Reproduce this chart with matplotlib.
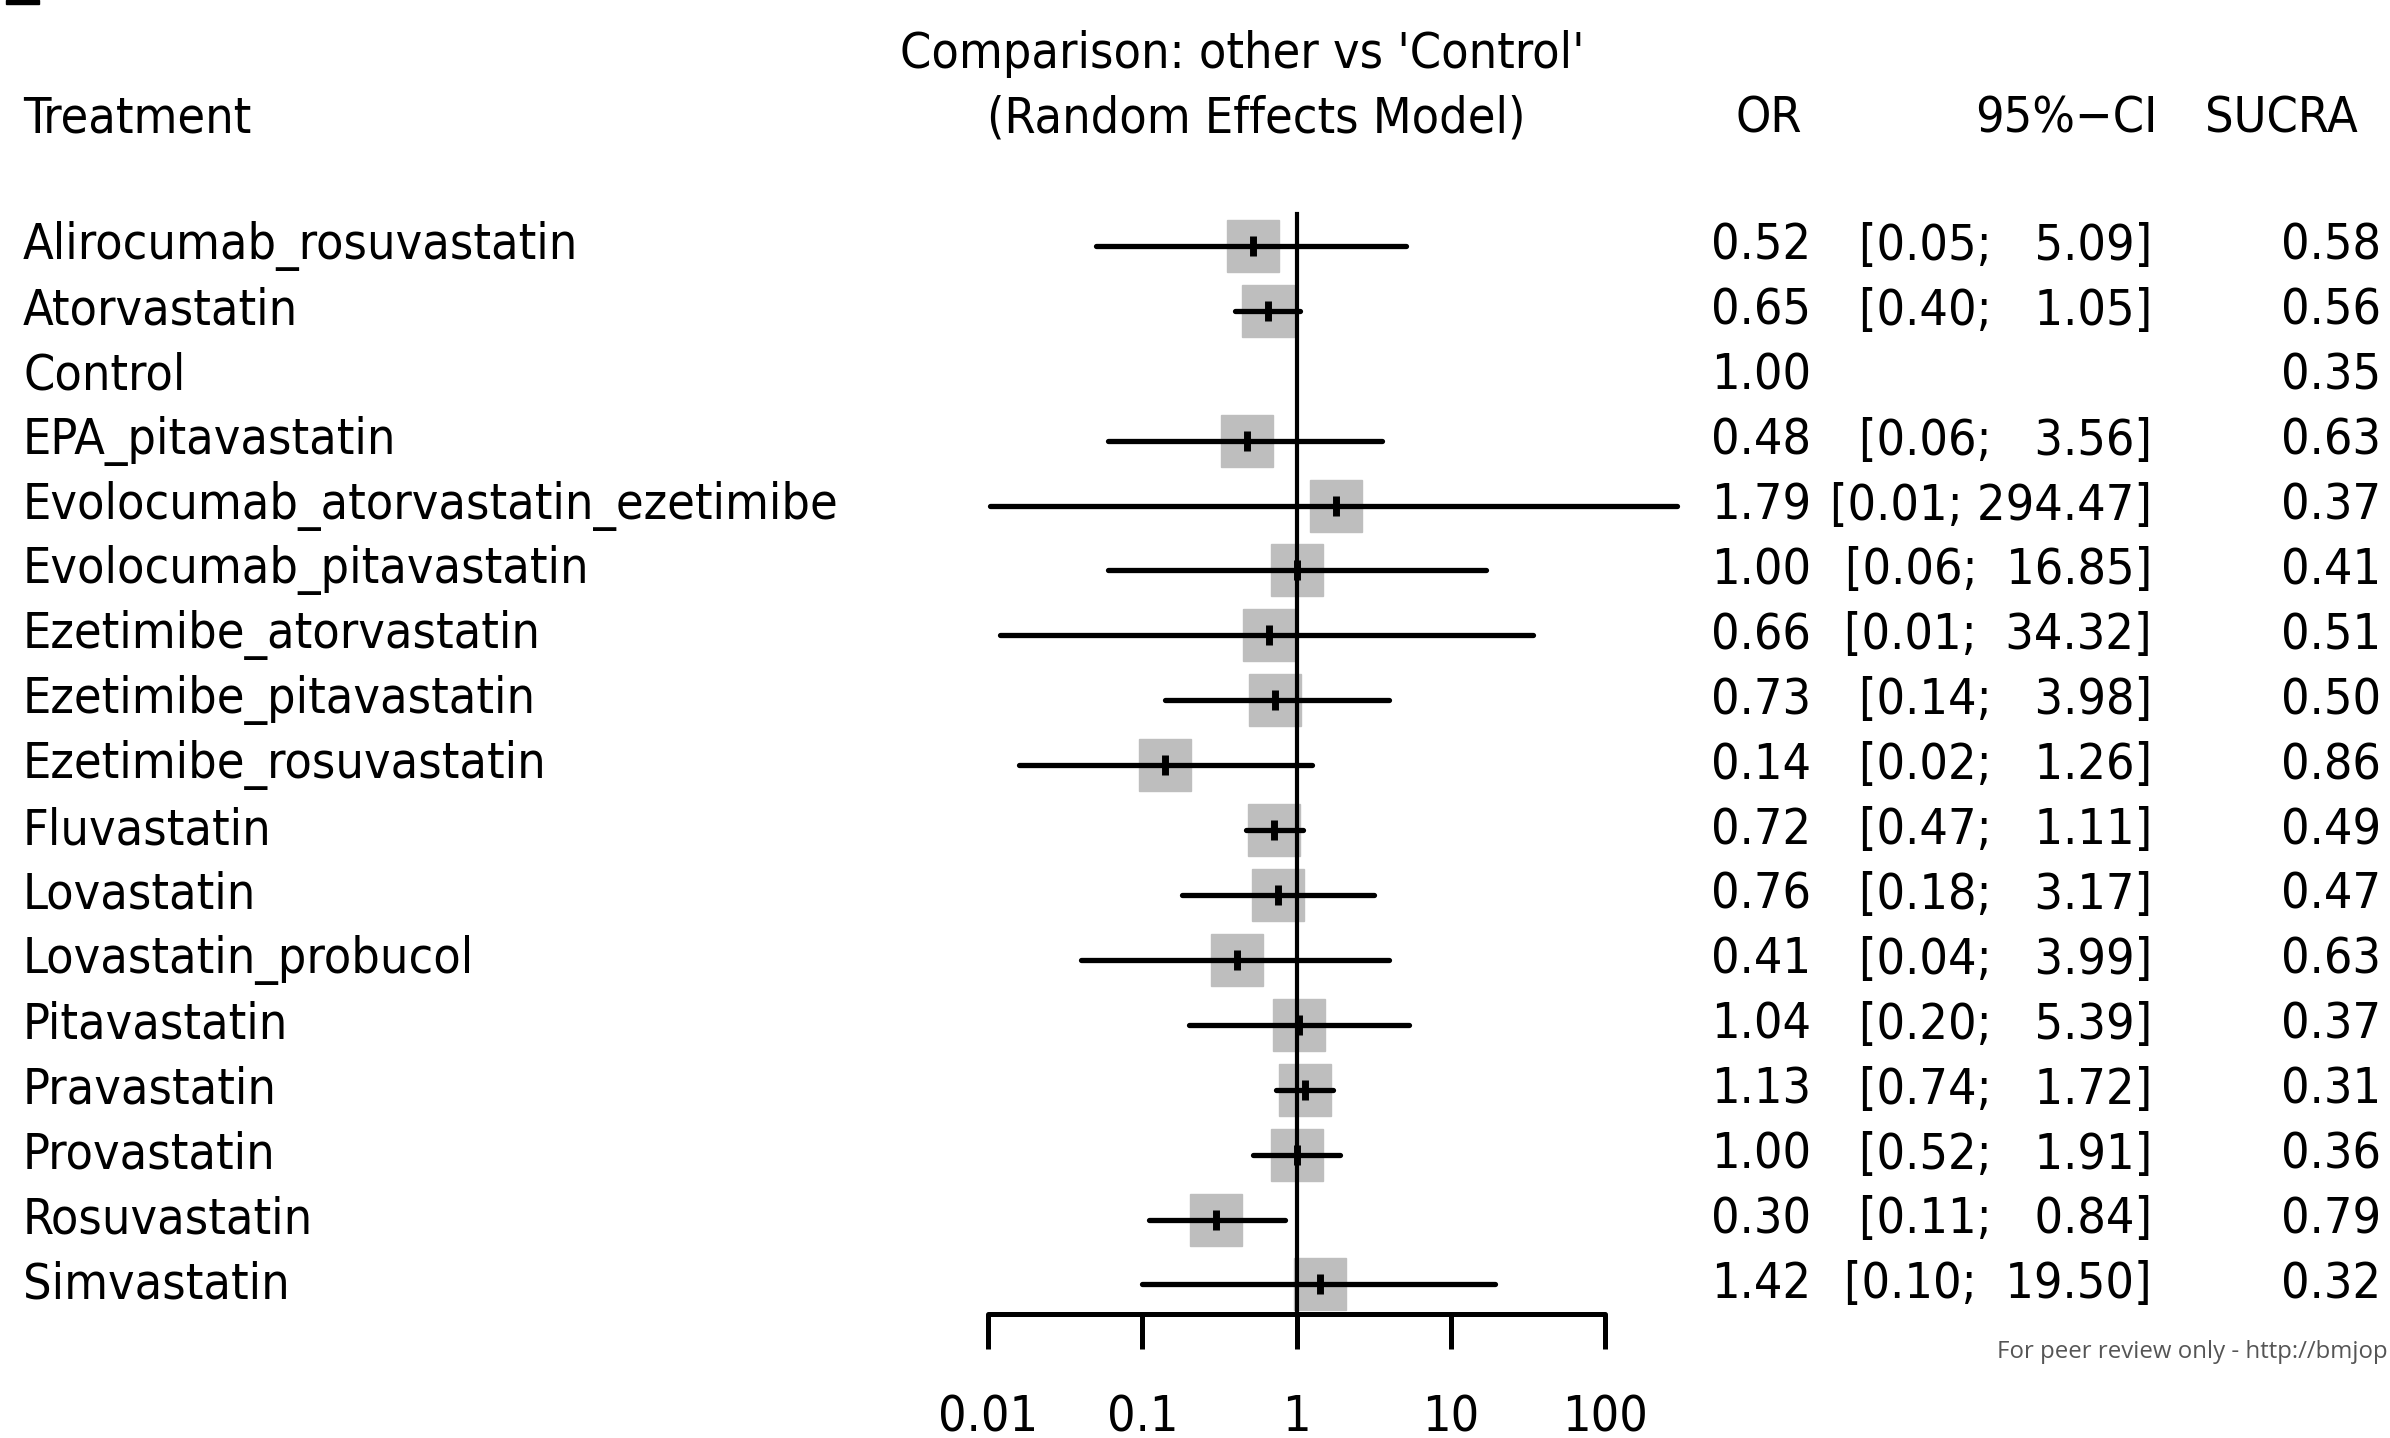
import matplotlib
matplotlib.use("Agg")
import matplotlib.pyplot as plt
import matplotlib.transforms as mtransforms
from matplotlib.patches import Rectangle
import numpy as np

plt.rcParams["font.family"] = ["DejaVu Sans"]
plt.rcParams["font.stretch"] = "condensed"

treatments = [
    "Alirocumab_rosuvastatin", "Atorvastatin", "Control", "EPA_pitavastatin",
    "Evolocumab_atorvastatin_ezetimibe", "Evolocumab_pitavastatin",
    "Ezetimibe_atorvastatin", "Ezetimibe_pitavastatin", "Ezetimibe_rosuvastatin",
    "Fluvastatin", "Lovastatin", "Lovastatin_probucol", "Pitavastatin",
    "Pravastatin", "Provastatin", "Rosuvastatin", "Simvastatin",
]
odds_ratio = [0.52, 0.65, 1.00, 0.48, 1.79, 1.00, 0.66, 0.73, 0.14,
              0.72, 0.76, 0.41, 1.04, 1.13, 1.00, 0.30, 1.42]
ci_lower = [0.05, 0.40, np.nan, 0.06, 0.0103, 0.06, 0.012, 0.14, 0.016,
            0.47, 0.18, 0.04, 0.20, 0.74, 0.52, 0.11, 0.10]
ci_upper = [5.09, 1.05, np.nan, 3.56, 294.47, 16.85, 34.32, 3.98, 1.26,
            1.11, 3.17, 3.99, 5.39, 1.72, 1.91, 0.84, 19.50]
sucra = [0.58, 0.56, 0.35, 0.63, 0.37, 0.41, 0.51, 0.50, 0.86,
         0.49, 0.47, 0.63, 0.37, 0.31, 0.36, 0.79, 0.32]
axis_ticks = [0.01, 0.1, 1, 10, 100]
axis_labels = ["0.01", "0.1", "1", "10", "100"]

W, H = 2390, 1438
fs = 36

fig = plt.figure(figsize=(W / 100, H / 100), dpi=100)
ax = fig.add_axes([988 / W, 0, 617 / W, 1])
ax.set_xscale("log")
ax.set_xlim(0.01, 100)
row_top = 246
row_step = 64.9
ax.set_ylim((H - row_top) / row_step, -row_top / row_step)

rows = np.arange(len(treatments))
has_ci = ~np.isnan(ci_lower)
or_arr = np.array(odds_ratio)

# reference line at OR = 1
ax.plot([1, 1], [-0.5, 16.46], color="black", lw=3.0, zorder=3)

# grey boxes, CI lines and point estimates
ax.plot(or_arr[has_ci], rows[has_ci], "s", color="#bebebe",
        markersize=38, zorder=1)
ax.hlines(rows[has_ci], np.array(ci_lower)[has_ci], np.array(ci_upper)[has_ci],
          color="black", lw=3.8, capstyle="round", zorder=4, clip_on=False)
ax.plot(or_arr[has_ci], rows[has_ci], "|", color="black",
        markersize=15, mew=5, zorder=5)

# x axis
for side in ["top", "left", "right"]:
    ax.spines[side].set_visible(False)
ax.spines["bottom"].set_position(("data", 16.46))
ax.spines["bottom"].set_bounds(0.01, 100)
ax.spines["bottom"].set_linewidth(3.6)
ax.spines["bottom"].set_capstyle("round")
ax.set_yticks([])
ax.set_xticks(axis_ticks)
ax.set_xticklabels(axis_labels, fontsize=fs)
ax.minorticks_off()
ax.tick_params(axis="x", direction="out", length=25, width=3.6, pad=32)
ax.patch.set_visible(False)

# text columns
tr = mtransforms.blended_transform_factory(fig.transFigure, ax.transData)
for i, name in enumerate(treatments):
    ax.text(23 / W, i, name, transform=tr, fontsize=fs, ha="left", va="center")
    ax.text(1811 / W, i, f"{odds_ratio[i]:.2f}", transform=tr, fontsize=fs,
            ha="right", va="center")
    if has_ci[i]:
        ci_txt = f"[{ci_lower[i]:.2f}; {ci_upper[i]:>6.2f}]"
        ax.text(2152 / W, i, ci_txt, transform=tr, fontsize=fs,
                ha="right", va="center")
    ax.text(2381 / W, i, f"{sucra[i]:.2f}", transform=tr, fontsize=fs,
            ha="right", va="center")

ax.text(23 / W, -1.97, "Treatment", transform=tr, fontsize=fs, ha="left", va="center")
ax.text(1242 / W, -2.96, "Comparison: other vs 'Control'", transform=tr,
        fontsize=fs, ha="center", va="center")
ax.text(1256 / W, -1.97, "(Random Effects Model)", transform=tr,
        fontsize=fs, ha="center", va="center")
ax.text(1802 / W, -1.97, "OR", transform=tr, fontsize=fs, ha="right", va="center")
ax.text(2157 / W, -1.97, "95%\u2212CI", transform=tr, fontsize=fs, ha="right", va="center")
ax.text(2358 / W, -1.97, "SUCRA", transform=tr, fontsize=fs, ha="right", va="center")

fig.text(2388 / W, 1 - 1352 / H, "For peer review only - http://bmjop",
         fontsize=17.3, color="#555555", ha="right", va="center",
         family=["Open Sans", "DejaVu Sans"], stretch="normal")

# cropped panel marker at the top-left corner
fig.patches.append(Rectangle((6 / W, 1 - 4 / H), 33 / W, 4 / H,
                             transform=fig.transFigure, color="black"))

fig.savefig("out.png", dpi=100)
